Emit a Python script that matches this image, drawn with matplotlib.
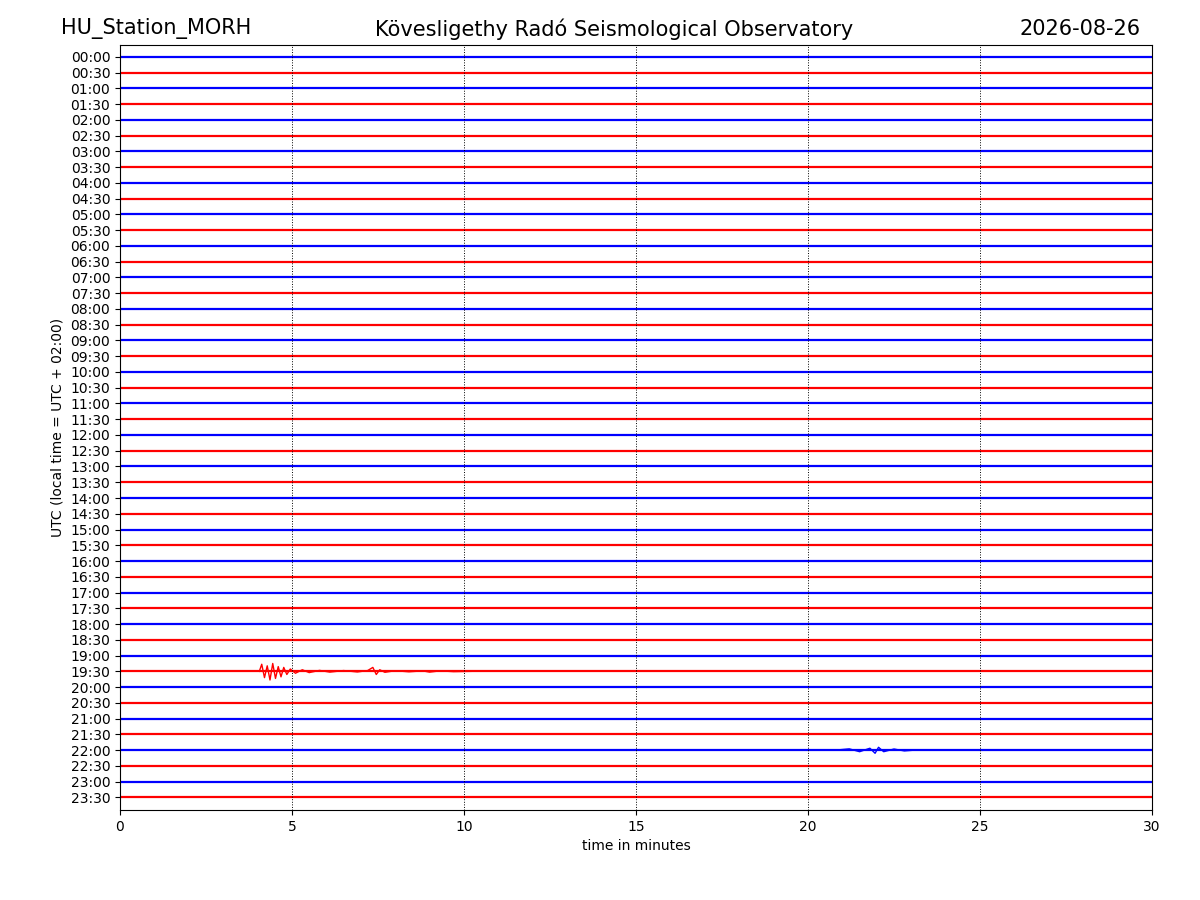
import matplotlib
matplotlib.use("Agg")
import matplotlib.pyplot as plt

station = "HU_Station_MORH"
observatory = "Kövesligethy Radó Seismological Observatory"
date_label = "2026-08-26"
row_labels = [f"{h:02d}:{m:02d}" for h in range(24) for m in (0, 30)]
row_colors = ["blue", "red"]

# hand-read samples of the visible events: (minute, offset in row units)
quake_row = 39
quake_t = [4.05, 4.12, 4.2, 4.28, 4.36, 4.44, 4.52, 4.6, 4.68, 4.76, 4.85, 4.95, 5.1,
           5.3, 5.5, 5.8, 6.1, 6.5, 6.9, 7.2, 7.35, 7.45, 7.55, 7.7, 8.0, 8.4, 8.8,
           9.0, 9.3, 9.7, 10.2]
quake_y = [0.0, 0.45, -0.4, 0.35, -0.55, 0.5, -0.45, 0.3, -0.35, 0.25, -0.2, 0.15, -0.12,
           0.1, -0.08, 0.06, -0.05, 0.05, -0.04, 0.05, 0.25, -0.2, 0.1, -0.06, 0.04,
           -0.03, 0.03, -0.05, 0.03, -0.02, 0.0]
event2_row = 44
event2_t = [20.8, 21.2, 21.5, 21.8, 21.95, 22.05, 22.2, 22.5, 22.8, 23.1]
event2_y = [0.0, 0.08, -0.1, 0.12, -0.2, 0.18, -0.1, 0.07, -0.05, 0.0]

fig = plt.figure(figsize=(12, 9), dpi=100)
ax = fig.add_axes([0.1, 0.1, 0.86, 0.85])

for i, label in enumerate(row_labels):
    ax.plot([0, 30], [-i, -i], color=row_colors[i % 2], linewidth=1.6)

ax.plot(quake_t, [-quake_row + v for v in quake_y], color="red", linewidth=1.0)
ax.plot(event2_t, [-event2_row + v for v in event2_y], color="blue", linewidth=1.0)

for x in range(5, 30, 5):
    ax.axvline(x, color="black", linestyle=":", linewidth=0.7)

ax.set_xlim(0, 30)
ax.set_ylim(-47.8, 0.75)
ax.set_yticks([-i for i in range(len(row_labels))])
ax.set_yticklabels(row_labels)
ax.set_xticks(range(0, 31, 5))
ax.set_xlabel("time in minutes")
ax.set_ylabel("UTC (local time = UTC + 02:00)")

fig.text(0.13, 0.968, station, ha="center", va="center", fontsize=15)
fig.text(0.512, 0.968, observatory, ha="center", va="center", fontsize=15)
fig.text(0.9, 0.968, date_label, ha="center", va="center", fontsize=15)

fig.savefig("out.png", dpi=100)
